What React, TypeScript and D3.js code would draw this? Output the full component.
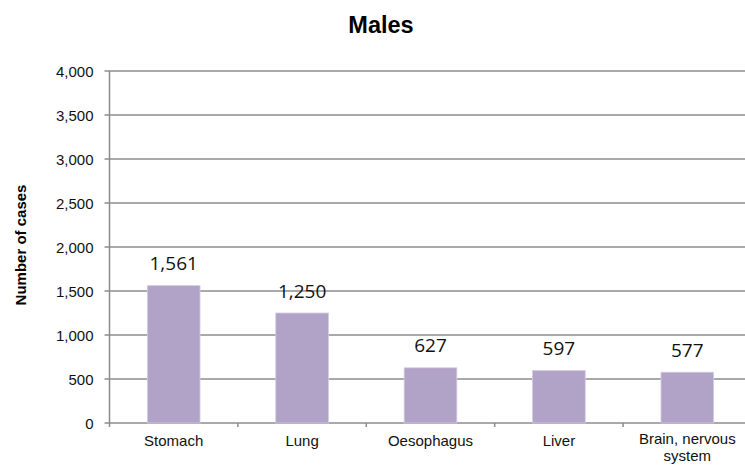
import React from "react";
import * as d3 from "d3";

const categories: string[][] = [["Stomach"], ["Lung"], ["Oesophagus"], ["Liver"], ["Brain, nervous", "system"]];
const values: number[] = [1561, 1250, 627, 597, 577];
const yTicks: number[] = [0, 500, 1000, 1500, 2000, 2500, 3000, 3500, 4000];
const title = "Males";
const yTitle = "Number of cases";

export default function App() {
  const W = 745, H = 469;
  const left = 109.5, right = 751.5, top = 71, bottom = 423;
  const x = d3.scaleBand<number>().domain(values.map((_, i) => i)).range([left, right]).paddingInner(0.59).paddingOuter(0.295);
  const xOuter = d3.scaleBand<number>().domain(values.map((_, i) => i)).range([left, right]);
  const y = d3.scaleLinear().domain([0, 4000]).range([bottom, top]);
  const fmt = d3.format(",");
  const axisFont = "'Liberation Sans', Arial, sans-serif";
  return (
    <svg width={W} height={H} style={{ position: "absolute", left: 0, top: 0 }}>
      <rect width={W} height={H} fill="#fff" />
      <text x={381} y={33} textAnchor="middle" fontFamily={axisFont} fontWeight="bold" fontSize={23.5}>{title}</text>
      <text transform={`translate(26,${245}) rotate(-90)`} textAnchor="middle" fontFamily={axisFont} fontWeight="bold" fontSize={15}>{yTitle}</text>
      {yTicks.map((t) => (
        <g key={t}>
          <line x1={left - 5} x2={t === 0 ? right : W} y1={y(t)} y2={y(t)} stroke="#8c8c8c" strokeWidth={1.5} />
          <text x={93.5} y={y(t) + 5.5} textAnchor="end" fontFamily={axisFont} fontSize={15} fill="#111">{fmt(t)}</text>
        </g>
      ))}
      <line x1={left} x2={left} y1={top} y2={bottom + 4} stroke="#8c8c8c" strokeWidth={1.5} />
      {values.map((_, i) => (
        <line key={i} x1={xOuter(i)! + xOuter.bandwidth()} x2={xOuter(i)! + xOuter.bandwidth()} y1={bottom} y2={bottom + 4} stroke="#8c8c8c" strokeWidth={1.5} />
      ))}
      {values.map((v, i) => (
        <g key={i}>
          <rect x={x(i)} y={y(v)} width={x.bandwidth()} height={bottom - y(v)} fill="#b1a2c8" stroke="#d4cbe0" strokeWidth={0.8} />
          <text x={x(i)! + x.bandwidth() / 2} y={y(v) - 15.5} textAnchor="middle" fontFamily="'Open Sans', Carlito, sans-serif" fontSize={19} fill="#111">{fmt(v)}</text>
          {categories[i].map((line, j) => (
            <text key={j} x={x(i)! + x.bandwidth() / 2} y={(categories[i].length > 1 ? 444 : 446) + j * 17} textAnchor="middle" fontFamily={axisFont} fontSize={15} fill="#111">{line}</text>
          ))}
        </g>
      ))}
    </svg>
  );
}
